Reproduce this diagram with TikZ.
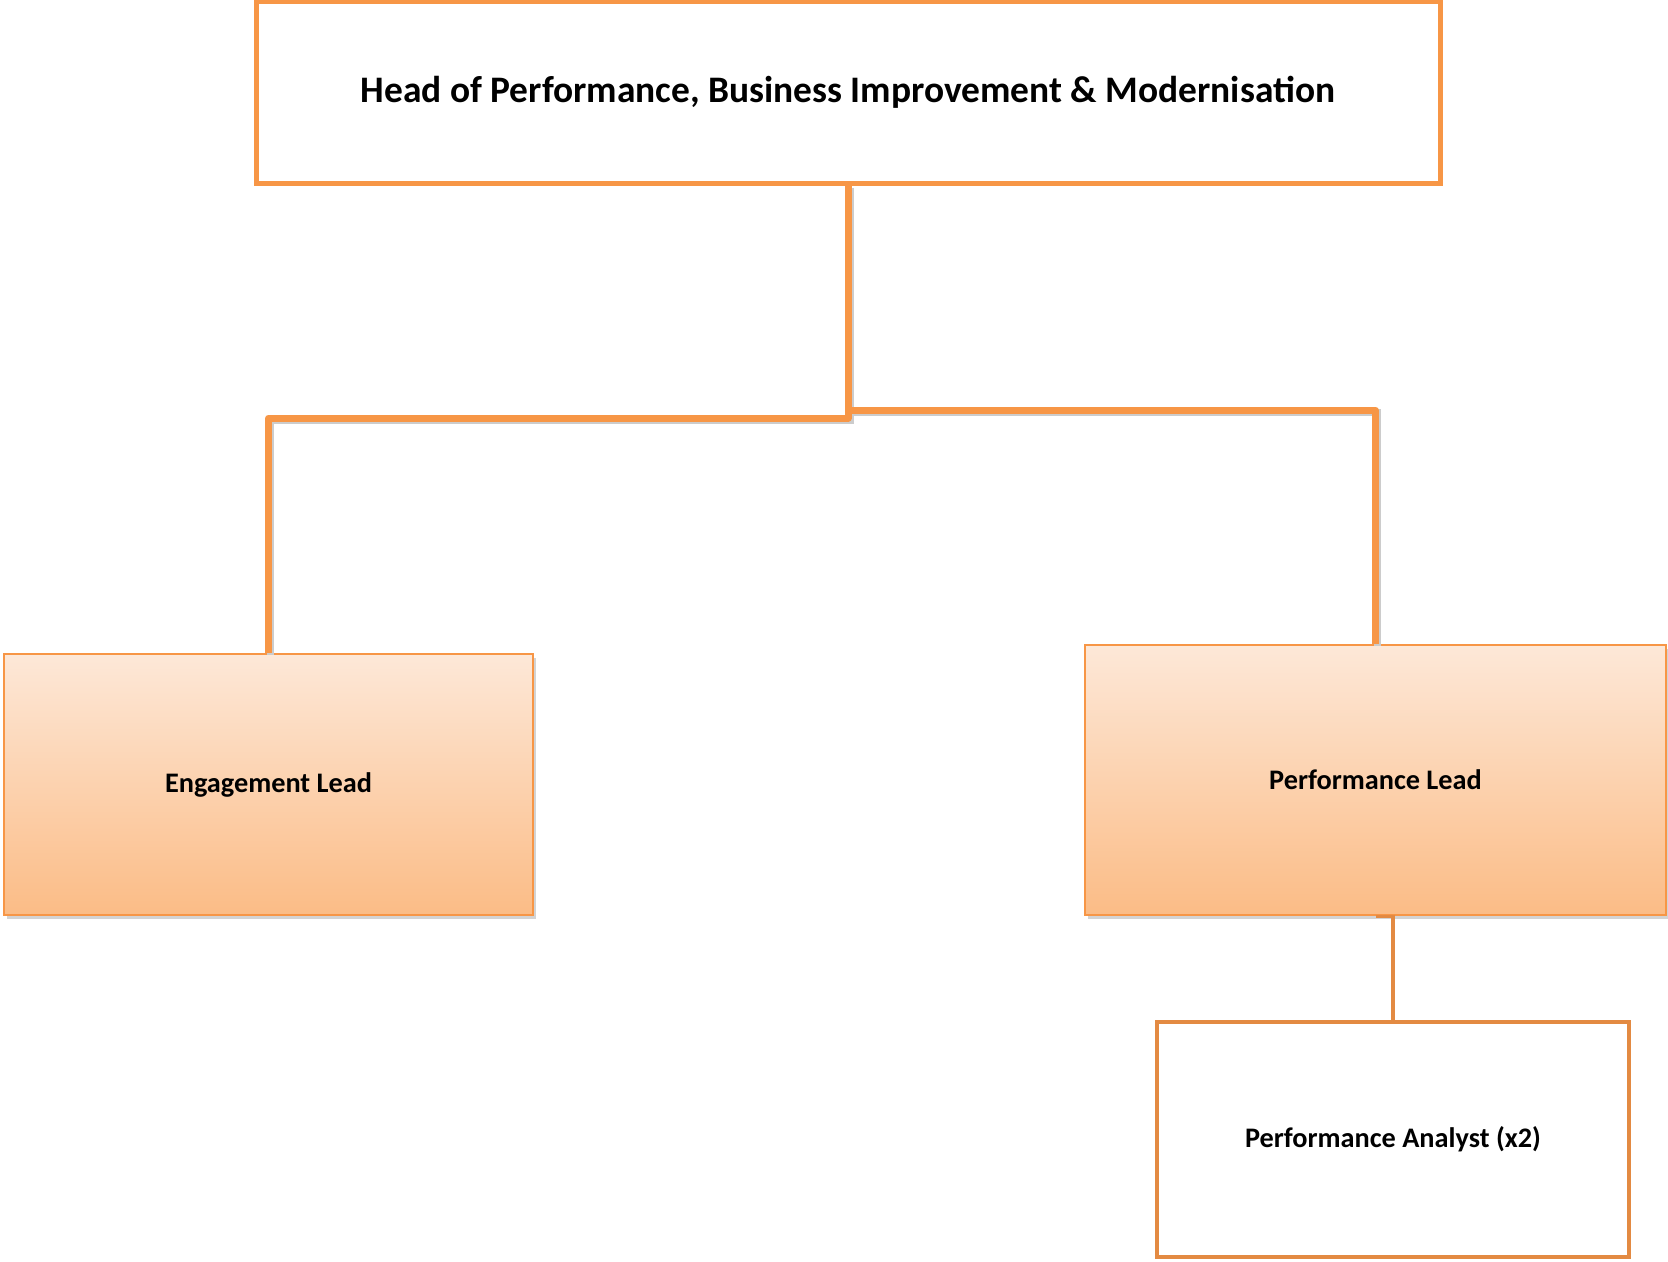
\documentclass[tikz,border=0pt]{standalone}
\usepackage{fontspec}
\setmainfont{Carlito}
\usepackage{tikz}
\usetikzlibrary{shadows}
\definecolor{orgx}{HTML}{F79646}
\definecolor{orgdark}{HTML}{E38A42}
\definecolor{peachtop}{HTML}{FDE8D8}
\definecolor{peachbot}{HTML}{FBBC86}

\begin{document}
\begin{tikzpicture}[
            x=0.2mm, y=-0.2mm,
            headbox/.style={draw=orgx, line width=1mm, fill=white, font=\bfseries\fontsize{21.3}{25}\selectfont},
            leadbox/.style={draw=orgx, line width=0.5mm, top color=peachtop, bottom color=peachbot,
                drop shadow={opacity=0.35, shadow xshift=0.6mm, shadow yshift=-0.8mm},
                font=\bfseries\fontsize{16.1}{19}\selectfont},
            staffbox/.style={draw=orgdark, line width=0.9mm, fill=white, font=\bfseries\fontsize{16.1}{19}\selectfont},
            link/.style={orgx, line width=1.4mm, line join=round,
                preaction={draw=black!20, line width=1.4mm, transform canvas={shift={(2,2)}}}},
            sublink/.style={orgdark, line width=0.7mm}
        ]
            \useasboundingbox (0,0) rectangle (1668,1261);

            \node[headbox, minimum width=1184*0.2mm, minimum height=182*0.2mm] (head) at (848,92)
                {Head of Performance, Business Improvement \& Modernisation};
            \node[leadbox, minimum width=529*0.2mm, minimum height=261*0.2mm] (eng) at (268.5,784.5) {Engagement Lead};
            \node[leadbox, minimum width=581*0.2mm, minimum height=270*0.2mm] (perf) at (1375.5,780) {Performance Lead};
            \node[staffbox, minimum width=472*0.2mm, minimum height=235*0.2mm] (analyst) at (1393,1139.5) {Performance Analyst (x2)};

            \coordinate (jl) at (848,418);
            \coordinate (jr) at (851,410);

            \draw [link] (head.south) -- (jl) -| (eng.north);
            \draw [link] (jr) -| (perf.north);
            \draw [sublink] (perf.south) -| (analyst.north);
        \end{tikzpicture}
\end{document}
